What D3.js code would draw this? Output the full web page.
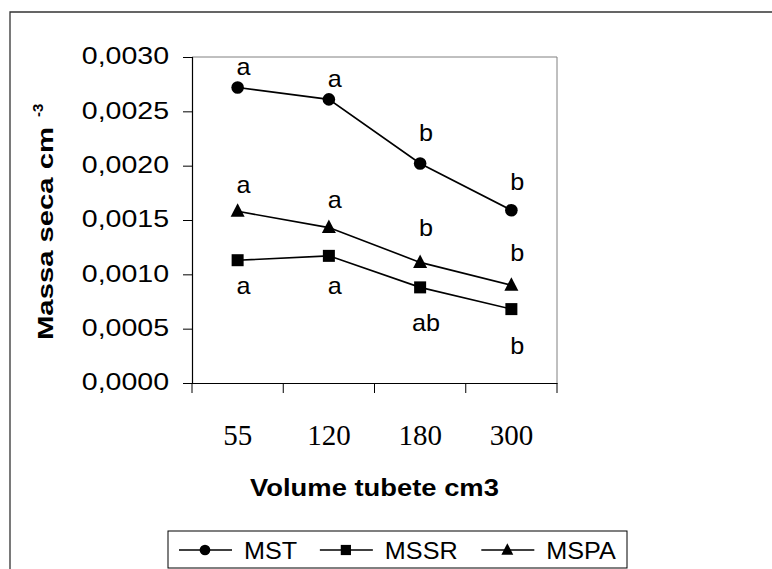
<!DOCTYPE html>
<html>
<head>
<meta charset="utf-8">
<script src="https://cdn.jsdelivr.net/npm/d3@7"></script>
<style>
  html, body { margin: 0; padding: 0; background: #fff; }
  svg { display: block; }
</style>
</head>
<body>
<svg id="chart" width="772" height="569"></svg>
<script>
// dados
const volumes = ['55', '120', '180', '300'];
const mst  = [0.00272, 0.00261, 0.00202, 0.00159];
const mssr = [0.00113, 0.00117, 0.00088, 0.00068];
const mspa = [0.00158, 0.00143, 0.00111, 0.00090];
const mstLetters  = ['a', 'a', 'b', 'b'];
const mssrLetters = ['a', 'a', 'ab', 'b'];
const mspaLetters = ['a', 'a', 'b', 'b'];
const yTicks = [0, 0.0005, 0.0010, 0.0015, 0.0020, 0.0025, 0.0030];

const SANS = 'Arial, "Liberation Sans", sans-serif';
const SERIF = '"Times New Roman", "Liberation Serif", serif';

// layout
const plot = { left: 192, right: 557, top: 57, bottom: 383 };

const series = [
    { name: 'MST',  values: mst,  letters: mstLetters,  shape: 'circle',   dy: [-12, -12, -22, -20] },
    { name: 'MSSR', values: mssr, letters: mssrLetters, shape: 'square',   dy: [34, 38, 44, 45] },
    { name: 'MSPA', values: mspa, letters: mspaLetters, shape: 'triangle', dy: [-18, -20, -26, -24] }
];

const svg = d3.select('#chart');

const x = d3.scaleBand().domain(volumes).range([plot.left, plot.right]);
const y = d3.scaleLinear().domain([0, 0.003]).range([plot.bottom, plot.top]);

// alarga o texto na horizontal, como no original
function widen(sel, k) {
    sel.each(function() {
        const w = this.getComputedTextLength();
        d3.select(this).attr('textLength', w * k).attr('lengthAdjust', 'spacingAndGlyphs');
    });
}

// moldura externa
svg.append('path')
    .attr('d', 'M10,569 V12 H772')
    .attr('fill', 'none')
    .attr('stroke', '#333')
    .attr('stroke-width', 1.3);

// borda da área do gráfico (topo e direita)
svg.append('path')
    .attr('d', `M${plot.left},${plot.top} H${plot.right} V${plot.bottom}`)
    .attr('fill', 'none')
    .attr('stroke', '#808080')
    .attr('stroke-width', 1);

// eixo Y
const yAxis = svg.append('g')
    .attr('transform', `translate(${plot.left},0)`)
    .call(d3.axisLeft(y)
        .tickValues(yTicks)
        .tickSize(9)
        .tickPadding(14)
        .tickFormat(d => d.toFixed(4).replace('.', ',')));
yAxis.select('.domain').attr('stroke', '#000').attr('stroke-width', 1.2);
yAxis.selectAll('.tick line').attr('stroke', '#000');
yAxis.selectAll('.tick text')
    .attr('font-family', SANS)
    .attr('font-size', 23)
    .attr('fill', '#000')
    .attr('dy', '0.3em')
    .call(widen, 1.24);

// eixo X
const xAxis = svg.append('g')
    .attr('transform', `translate(0,${plot.bottom})`)
    .call(d3.axisBottom(x).tickSize(0).tickPadding(0));
xAxis.select('.domain').attr('stroke', '#000').attr('stroke-width', 1.2);
xAxis.selectAll('.tick text')
    .attr('font-family', SERIF)
    .attr('font-size', 29)
    .attr('fill', '#000')
    .attr('y', 62)
    .attr('dy', 0);

// marcas nos limites das categorias
const bounds = d3.range(volumes.length + 1).map(i => plot.left + i * x.step());
xAxis.selectAll('.bound')
    .data(bounds)
    .enter()
    .append('line')
    .attr('class', 'bound')
    .attr('x1', d => d)
    .attr('x2', d => d)
    .attr('y1', 0)
    .attr('y2', 10)
    .attr('stroke', '#000');

// títulos dos eixos
svg.append('text')
    .attr('x', (plot.left + plot.right) / 2)
    .attr('y', 496)
    .attr('text-anchor', 'middle')
    .attr('font-family', SANS)
    .attr('font-weight', 'bold')
    .attr('font-size', 24)
    .text('Volume tubete cm3')
    .call(widen, 1.14);

svg.append('text')
    .attr('transform', 'translate(53,340) rotate(-90)')
    .attr('font-family', SANS)
    .attr('font-weight', 'bold')
    .attr('font-size', 22)
    .attr('textLength', 213)
    .attr('lengthAdjust', 'spacingAndGlyphs')
    .text('Massa seca cm');
svg.append('text')
    .attr('transform', 'translate(43,117) rotate(-90)')
    .attr('font-family', SANS)
    .attr('font-weight', 'bold')
    .attr('font-size', 15)
    .text('-3');

// símbolos
function drawMarker(g, shape, cx, cy, k) {
    if (shape === 'circle') {
        g.append('circle').attr('cx', cx).attr('cy', cy).attr('r', 6.3 * k).attr('fill', '#000');
    } else if (shape === 'square') {
        const h = 6 * k;
        g.append('rect').attr('x', cx - h).attr('y', cy - h).attr('width', 2 * h).attr('height', 2 * h).attr('fill', '#000');
    } else {
        g.append('path')
            .attr('d', `M${cx},${cy - 8 * k} L${cx + 7 * k},${cy + 5.5 * k} L${cx - 7 * k},${cy + 5.5 * k} Z`)
            .attr('fill', '#000');
    }
}

const line = d3.line()
    .x((d, i) => x(volumes[i]) + x.bandwidth() / 2)
    .y(d => y(d));

series.forEach(s => {
    const g = svg.append('g').attr('class', 'series');
    g.append('path')
        .datum(s.values)
        .attr('d', line)
        .attr('fill', 'none')
        .attr('stroke', '#000')
        .attr('stroke-width', 1.6);
    s.values.forEach((v, i) => {
        drawMarker(g, s.shape, x(volumes[i]) + x.bandwidth() / 2, y(v), 1);
    });
    g.selectAll('.letter')
        .data(s.values)
        .enter()
        .append('text')
        .attr('class', 'letter')
        .attr('x', (d, i) => x(volumes[i]) + x.bandwidth() / 2 + 6)
        .attr('y', (d, i) => y(d) + s.dy[i])
        .attr('text-anchor', 'middle')
        .attr('font-family', SANS)
        .attr('font-size', 24)
        .attr('fill', '#000')
        .text((d, i) => s.letters[i])
        .call(widen, 1.05);
});

// legenda
const legend = svg.append('g');
legend.append('rect')
    .attr('x', 168)
    .attr('y', 531)
    .attr('width', 459)
    .attr('height', 37)
    .attr('fill', '#fff')
    .attr('stroke', '#000')
    .attr('stroke-width', 1);

// entradas colocadas em sequência: linha, símbolo, texto
let cursor = 179;
const cy = 550;
series.forEach(s => {
    const x0 = cursor;
    legend.append('line')
        .attr('x1', x0).attr('x2', x0 + 53)
        .attr('y1', cy).attr('y2', cy)
        .attr('stroke', '#000')
        .attr('stroke-width', 1.6);
    drawMarker(legend, s.shape, x0 + 26, cy, 0.85);
    const t = legend.append('text')
        .attr('x', x0 + 65)
        .attr('y', cy + 9)
        .attr('font-family', SANS)
        .attr('font-size', 24)
        .attr('fill', '#000')
        .text(s.name)
        .call(widen, 1.05);
    cursor = x0 + 65 + t.node().getComputedTextLength() * 1.05 + 20;
});
</script>
</body>
</html>
